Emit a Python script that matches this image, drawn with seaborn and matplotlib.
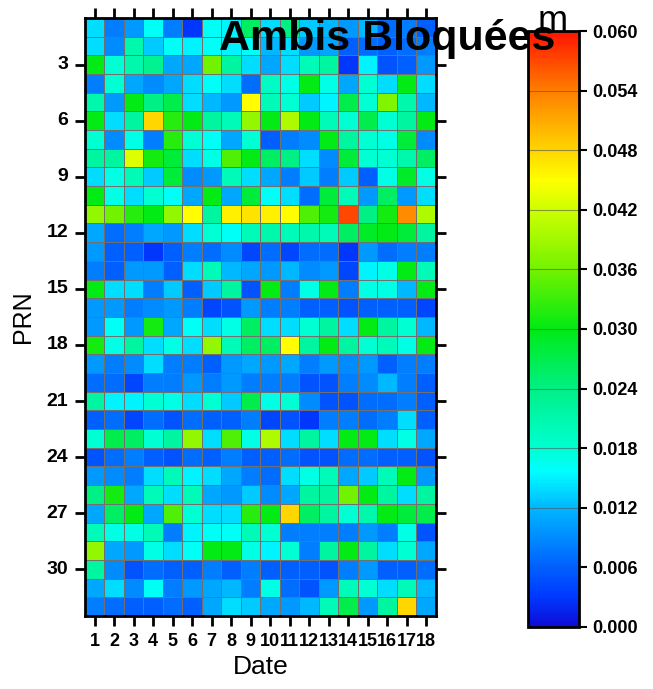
import matplotlib
matplotlib.use('Agg')
import matplotlib.pyplot as plt
from matplotlib.colors import LinearSegmentedColormap
import seaborn as sns
import numpy as np
import pandas as pd


dates = [str(d) for d in range(1, 19)]
prns = list(range(1, 33))
prn_ticks = [3, 6, 9, 12, 15, 18, 21, 24, 27, 30]
cbar_ticks = [0.000, 0.006, 0.012, 0.018, 0.024, 0.030, 0.036, 0.042,
              0.048, 0.054, 0.060]

# blocked ambiguity residuals [m], one row per PRN, one column per date
prn_01_08 = [
    [0.014, 0.008, 0.010, 0.016, 0.008, 0.003, 0.016, 0.015, 0.026, 0.014, 0.024, 0.013, 0.012, 0.010, 0.012, 0.007, 0.008, 0.006],
    [0.014, 0.009, 0.021, 0.013, 0.016, 0.015, 0.016, 0.015, 0.016, 0.012, 0.014, 0.010, 0.011, 0.006, 0.007, 0.006, 0.007, 0.008],
    [0.030, 0.018, 0.021, 0.023, 0.011, 0.011, 0.036, 0.022, 0.014, 0.011, 0.014, 0.020, 0.022, 0.003, 0.015, 0.005, 0.006, 0.010],
    [0.008, 0.018, 0.011, 0.009, 0.011, 0.014, 0.016, 0.014, 0.007, 0.019, 0.017, 0.030, 0.017, 0.011, 0.018, 0.014, 0.030, 0.014],
    [0.021, 0.010, 0.030, 0.024, 0.027, 0.014, 0.012, 0.010, 0.045, 0.020, 0.018, 0.013, 0.015, 0.027, 0.018, 0.037, 0.021, 0.012],
    [0.030, 0.014, 0.022, 0.048, 0.032, 0.030, 0.022, 0.020, 0.038, 0.030, 0.040, 0.030, 0.020, 0.018, 0.027, 0.018, 0.022, 0.030],
    [0.018, 0.009, 0.017, 0.008, 0.032, 0.018, 0.016, 0.011, 0.018, 0.006, 0.008, 0.009, 0.030, 0.022, 0.018, 0.017, 0.028, 0.009],
    [0.022, 0.022, 0.043, 0.031, 0.028, 0.014, 0.017, 0.034, 0.030, 0.026, 0.024, 0.014, 0.009, 0.028, 0.018, 0.018, 0.021, 0.026],
]
prn_09_16 = [
    [0.014, 0.017, 0.020, 0.013, 0.028, 0.009, 0.010, 0.020, 0.014, 0.011, 0.008, 0.013, 0.008, 0.013, 0.006, 0.017, 0.029, 0.017],
    [0.030, 0.017, 0.014, 0.018, 0.016, 0.011, 0.030, 0.011, 0.028, 0.016, 0.014, 0.007, 0.028, 0.020, 0.010, 0.026, 0.010, 0.014],
    [0.038, 0.036, 0.032, 0.030, 0.038, 0.045, 0.022, 0.046, 0.047, 0.046, 0.045, 0.034, 0.031, 0.057, 0.024, 0.031, 0.053, 0.040],
    [0.011, 0.007, 0.008, 0.011, 0.010, 0.014, 0.018, 0.016, 0.020, 0.021, 0.020, 0.021, 0.020, 0.026, 0.029, 0.030, 0.028, 0.022],
    [0.010, 0.006, 0.006, 0.003, 0.006, 0.008, 0.007, 0.009, 0.004, 0.007, 0.004, 0.007, 0.007, 0.003, 0.010, 0.007, 0.008, 0.008],
    [0.008, 0.006, 0.010, 0.010, 0.006, 0.014, 0.020, 0.012, 0.011, 0.010, 0.012, 0.009, 0.010, 0.004, 0.015, 0.017, 0.030, 0.020],
    [0.030, 0.014, 0.014, 0.008, 0.013, 0.006, 0.013, 0.022, 0.005, 0.030, 0.008, 0.017, 0.030, 0.008, 0.017, 0.017, 0.012, 0.030],
    [0.010, 0.010, 0.008, 0.009, 0.010, 0.008, 0.004, 0.005, 0.010, 0.008, 0.008, 0.006, 0.006, 0.005, 0.006, 0.006, 0.006, 0.004],
]
prn_17_24 = [
    [0.010, 0.016, 0.010, 0.031, 0.011, 0.016, 0.014, 0.017, 0.026, 0.014, 0.014, 0.018, 0.022, 0.014, 0.030, 0.022, 0.018, 0.012],
    [0.031, 0.017, 0.022, 0.014, 0.017, 0.014, 0.038, 0.020, 0.026, 0.026, 0.045, 0.022, 0.030, 0.022, 0.018, 0.020, 0.017, 0.030],
    [0.010, 0.008, 0.009, 0.014, 0.008, 0.008, 0.006, 0.010, 0.011, 0.010, 0.011, 0.008, 0.010, 0.009, 0.010, 0.006, 0.008, 0.008],
    [0.007, 0.007, 0.004, 0.008, 0.008, 0.010, 0.008, 0.010, 0.008, 0.008, 0.008, 0.005, 0.005, 0.008, 0.009, 0.012, 0.008, 0.006],
    [0.022, 0.015, 0.015, 0.018, 0.017, 0.014, 0.018, 0.013, 0.027, 0.017, 0.018, 0.009, 0.005, 0.005, 0.007, 0.007, 0.008, 0.006],
    [0.006, 0.007, 0.004, 0.007, 0.005, 0.007, 0.006, 0.006, 0.008, 0.004, 0.005, 0.003, 0.008, 0.008, 0.007, 0.008, 0.014, 0.006],
    [0.018, 0.027, 0.026, 0.018, 0.022, 0.038, 0.014, 0.034, 0.017, 0.040, 0.014, 0.022, 0.014, 0.030, 0.030, 0.014, 0.017, 0.011],
    [0.005, 0.007, 0.008, 0.006, 0.005, 0.007, 0.006, 0.008, 0.006, 0.006, 0.007, 0.005, 0.005, 0.007, 0.007, 0.006, 0.006, 0.005],
]
prn_25_32 = [
    [0.010, 0.009, 0.008, 0.014, 0.020, 0.015, 0.014, 0.011, 0.008, 0.007, 0.014, 0.017, 0.020, 0.011, 0.013, 0.020, 0.030, 0.010],
    [0.024, 0.031, 0.011, 0.020, 0.014, 0.020, 0.011, 0.010, 0.013, 0.009, 0.011, 0.022, 0.022, 0.036, 0.030, 0.022, 0.014, 0.022],
    [0.011, 0.026, 0.030, 0.011, 0.034, 0.018, 0.014, 0.014, 0.032, 0.030, 0.048, 0.026, 0.022, 0.018, 0.021, 0.030, 0.028, 0.027],
    [0.020, 0.017, 0.017, 0.020, 0.008, 0.015, 0.016, 0.016, 0.020, 0.018, 0.008, 0.008, 0.008, 0.008, 0.010, 0.008, 0.017, 0.005],
    [0.038, 0.011, 0.010, 0.017, 0.014, 0.016, 0.030, 0.030, 0.017, 0.015, 0.018, 0.008, 0.022, 0.030, 0.022, 0.014, 0.018, 0.011],
    [0.022, 0.009, 0.005, 0.007, 0.006, 0.006, 0.008, 0.006, 0.008, 0.006, 0.006, 0.006, 0.005, 0.008, 0.010, 0.006, 0.006, 0.007],
    [0.011, 0.014, 0.009, 0.016, 0.008, 0.010, 0.011, 0.012, 0.008, 0.017, 0.007, 0.005, 0.010, 0.020, 0.018, 0.014, 0.020, 0.012],
    [0.008, 0.007, 0.006, 0.006, 0.007, 0.006, 0.011, 0.014, 0.013, 0.011, 0.010, 0.012, 0.020, 0.027, 0.010, 0.022, 0.048, 0.011],
]

# GMT-like rainbow palette
rainbow = LinearSegmentedColormap.from_list('gmt_rainbow', [
    (0.00, (0.05, 0.05, 0.85)),
    (0.05, (0.00, 0.22, 1.00)),
    (0.10, (0.00, 0.38, 1.00)),
    (0.20, (0.00, 0.72, 1.00)),
    (0.26, (0.00, 1.00, 1.00)),
    (0.30, (0.00, 1.00, 0.82)),
    (0.40, (0.00, 0.94, 0.52)),
    (0.50, (0.00, 0.92, 0.08)),
    (0.60, (0.45, 0.95, 0.00)),
    (0.70, (0.80, 1.00, 0.00)),
    (0.75, (1.00, 1.00, 0.00)),
    (0.80, (1.00, 0.84, 0.00)),
    (0.90, (1.00, 0.50, 0.00)),
    (1.00, (1.00, 0.08, 0.00)),
])

plt.rcParams['font.family'] = ['Liberation Sans', 'DejaVu Sans']
plt.rcParams['font.weight'] = 'bold'

ambis = pd.DataFrame(np.array(prn_01_08 + prn_09_16 + prn_17_24 + prn_25_32),
                     index=prns, columns=dates)

fig = plt.figure(figsize=(6.53, 6.89), dpi=100)
ax = fig.add_axes([0.130, 0.106, 0.5375, 0.868])
cax = fig.add_axes([0.8086, 0.090, 0.078, 0.865])

sns.heatmap(ambis, ax=ax, cmap=rainbow, vmin=0.0, vmax=0.06,
            linewidths=0.6, linecolor='#707070', cbar_ax=cax,
            xticklabels=True, yticklabels=True)

# axis ticks: every date, every third PRN, on all four sides
ax.set_xticks(np.arange(len(dates)) + 0.5)
ax.set_xticklabels(dates, rotation=0, fontsize=13)
ax.set_yticks(np.array(prn_ticks) - 0.5)
ax.set_yticklabels([str(p) for p in prn_ticks], rotation=0, fontsize=14)
ax.tick_params(top=True, right=True, bottom=True, left=True,
               labeltop=False, labelright=False, direction='out',
               length=7, width=2, pad=5)
for s in ax.spines.values():
    s.set_visible(True)
    s.set_linewidth(2)
ax.set_xlabel('Date', fontsize=19, labelpad=4)
ax.set_ylabel('PRN', fontsize=18, labelpad=8)

# colorbar
cbar = ax.collections[0].colorbar
cbar.set_ticks(cbar_ticks)
cbar.set_ticklabels([f'{v:.3f}' for v in cbar_ticks], fontsize=13)
cax.tick_params(direction='out', length=6, width=1.5, right=True)
for v in cbar_ticks[1:-1]:
    cax.axhline(v, color='#555555', lw=0.8, alpha=0.6)
cbar.outline.set_linewidth(2)
fig.text(0.847, 0.955, 'm', fontsize=26, fontweight='normal',
         ha='center', va='baseline')

fig.text(0.593, 0.927, 'Ambis Bloquées', fontsize=31, fontweight='bold',
         ha='center', va='baseline')

plt.savefig('out.png', dpi=100)
plt.close()
